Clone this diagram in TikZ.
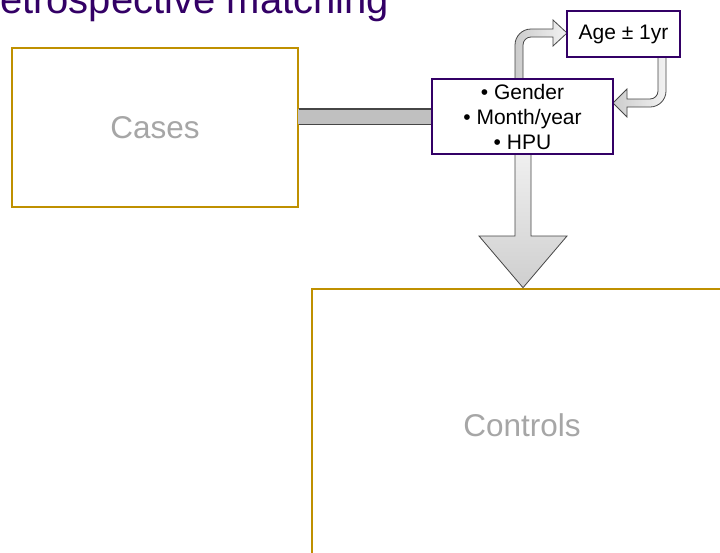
\documentclass[tikz,border=0pt]{standalone}
\usepackage{fontspec}
\setmainfont{Liberation Sans}
\definecolor{ttlpurple}{RGB}{51,0,102}
\definecolor{boxpurple}{RGB}{51,0,102}
\definecolor{gold}{RGB}{191,144,0}
\definecolor{lbl}{RGB}{166,166,166}
\definecolor{edgegray}{RGB}{70,70,70}
\definecolor{barfill}{RGB}{192,192,192}
\tikzset{
  bigbox/.style={draw=gold, line width=2.6pt, fill=white, rectangle, inner sep=0pt,
    text=lbl, font=\fontsize{31.5}{36}\selectfont},
  smallbox/.style={draw=boxpurple, line width=2.2pt, fill=white, rectangle, inner sep=0pt,
    text=black, font=\fontsize{21}{25}\selectfont, align=center},
  blockarrow/.style={draw=edgegray, line width=0.8pt, top color=gray!12, bottom color=gray!38},
  sidearrow/.style={draw=edgegray, line width=0.8pt, left color=gray!40, right color=gray!10},
}
\begin{document}
\begin{tikzpicture}[x=1pt, y=1pt, yscale=-1]
\clip (0,0) rectangle (720,552);
\fill[white] (0,0) rectangle (720,552);
% title
\node[anchor=base west, inner sep=0pt, text=ttlpurple, font=\fontsize{40}{46}\selectfont] (title) at (-29,13) {Retrospective matching};
% bar between cases and criteria
\node[bigbox, minimum width=286pt, minimum height=159pt] (cases) at (155,127.5) {Cases};
\node[bigbox, minimum width=420pt, minimum height=272pt] (controls) at (522,425) {Controls};
\fill[barfill] (298,109) rectangle (432,124);
\draw[edgegray, line width=1.6pt] (cases.east |- 0,109) -- (432,109);
\draw[edgegray, line width=1pt] (cases.east |- 0,124) -- (432,124);
% down block arrow
\draw[blockarrow] (515,154) -- (515,236) -- (479,236) -- (controls.north -| 523,0) -- (567,236) -- (531,236) -- (531,154) -- cycle;
% curved arrow up to age
\draw[sidearrow] (515,80) -- (515,45) arc[start angle=180, end angle=270, radius=16pt]
  -- (553,29) -- (553,20) -- (567,33) -- (553,46) -- (553,37) -- (531,37)
  arc[start angle=270, end angle=180, radius=8pt] -- (523,80) -- cycle;
% curved arrow back from age
\draw[sidearrow] (666,56) -- (666,91) arc[start angle=0, end angle=90, radius=16pt]
  -- (627,107) -- (627,117) -- (613,103) -- (627,89) -- (627,99) -- (650,99)
  arc[start angle=90, end angle=0, radius=8pt] -- (658,56) -- cycle;
% criteria boxes
\node[smallbox, minimum width=181pt, minimum height=75pt] (gender) at (522.5,116.5) {• Gender\\• Month/year\\• HPU};
\node[smallbox, minimum width=113pt, minimum height=46pt] (age) at (623.5,34) {Age ± 1yr};
\end{tikzpicture}
\end{document}
